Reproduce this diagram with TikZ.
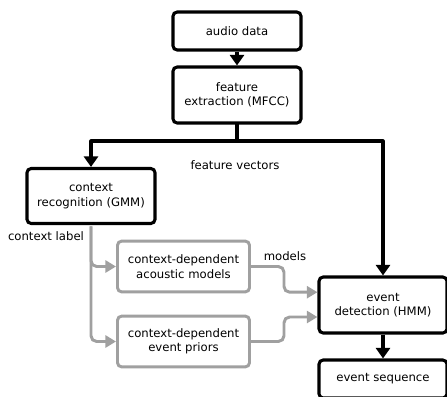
\documentclass[tikz,border=0pt]{standalone}
\usepackage{fontspec}
\setmainfont{DejaVu Sans}
\usetikzlibrary{arrows.meta}
\definecolor{softgrey}{RGB}{160,160,160}

\begin{document}
\begin{tikzpicture}[x=0.025cm, y=-0.025cm,
    every node/.style={font=\fontsize{8.3}{10.2}\selectfont, align=center},
    blockbox/.style={draw=black, line width=2.2pt, rounded corners=3pt, minimum width=3.2cm, inner sep=2pt},
    softbox/.style={draw=softgrey, line width=2.1pt, rounded corners=3pt, minimum width=3.3cm, minimum height=1.27cm, inner sep=2pt},
    blackflow/.style={line width=2.2pt, -{Triangle[length=7.5pt, width=10pt]}},
    greyflow/.style={draw=softgrey, line width=2.1pt, rounded corners=4pt, -{Triangle[length=7.5pt, width=8.5pt, fill=softgrey]}}]
  \useasboundingbox (0,0) rectangle (447,396);
  % processing chain
  \node[blockbox, minimum height=0.95cm] (audio) at (237,31) {audio data};
  \node[blockbox, minimum height=1.4cm] (feat) at (237,95) {feature\\extraction (MFCC)};
  \node[blockbox, minimum height=1.375cm] (ctx) at (91,196) {context\\recognition (GMM)};
  \node[softbox] (acoustic) at (183.5,266.5) {context-dependent\\acoustic models};
  \node[softbox] (priors) at (183.5,341.5) {context-dependent\\event priors};
  \node[blockbox, minimum height=1.4cm] (event) at (383,305) {event\\detection (HMM)};
  \node[blockbox, minimum height=0.95cm] (seq) at (383,379) {event sequence};
  \coordinate (split) at (237,141);
  % labels
  \node (fvlabel) at (235,165) {feature vectors};
  \node (cllabel) at (46,236) {context label};
  \node (mlabel) at (285,256) {models};
  % connectors
  \draw[blackflow] (audio) -- (feat);
  \draw[line width=2.2pt, line cap=rect] (feat.south) -- (split);
  \draw[blackflow, line join=round] (split) -| (ctx);
  \draw[blackflow, line join=round] (split) -| (event);
  \draw[blackflow] (event) -- (seq);
  \draw[greyflow] ([yshift=-1pt]ctx.south) |- (acoustic.west);
  \draw[greyflow] ([yshift=-1pt]ctx.south) |- (priors.west);
  \draw[greyflow] (acoustic.east) -- ++(33,0) |- ([yshift=0.32cm]event.west);
  \draw[greyflow] (priors.east) -- ++(33,0) |- ([yshift=-0.3cm]event.west);
\end{tikzpicture}
\end{document}
